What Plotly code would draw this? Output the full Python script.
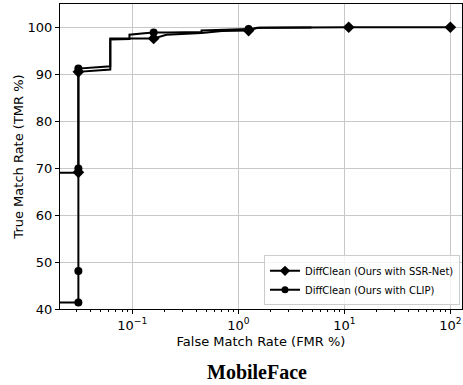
import plotly.graph_objects as go

# ---- data ----
ssr_fmr = [0.001, 0.031, 0.031, 0.031, 0.062, 0.062, 0.094, 0.13, 0.159, 0.21, 0.45, 0.70, 1.25, 1.5, 4.9, 11.0, 100.0]
ssr_tmr = [69.0, 69.0, 69.1, 90.5, 91.0, 97.6, 97.6, 97.5, 97.6, 98.4, 98.8, 99.2, 99.3, 99.9, 100.0, 100.0, 100.0]
ssr_marked = [0, 0, 1, 1, 0, 0, 0, 0, 1, 0, 0, 0, 1, 0, 0, 1, 1]

clip_fmr = [0.001, 0.031, 0.031, 0.031, 0.031, 0.062, 0.062, 0.094, 0.094, 0.13, 0.159, 0.22, 0.45, 0.45, 0.68, 1.25, 1.6, 4.9]
clip_tmr = [41.4, 41.4, 48.1, 69.9, 91.2, 91.7, 97.4, 97.5, 98.4, 98.7, 98.9, 98.9, 99.0, 99.3, 99.4, 99.6, 99.9, 99.95]
clip_marked = [0, 1, 1, 1, 1, 0, 0, 0, 0, 0, 1, 0, 0, 0, 0, 1, 0, 0]

series = [
    ("DiffClean (Ours with SSR-Net)", ssr_fmr, ssr_tmr, ssr_marked, "diamond", 9),
    ("DiffClean (Ours with CLIP)", clip_fmr, clip_tmr, clip_marked, "circle", 8),
]

x_ticks = [0.1, 1, 10, 100]
x_ticktext = ["10<sup>\u22121</sup>", "10<sup>0</sup>", "10<sup>1</sup>", "10<sup>2</sup>"]
y_ticks = [40, 50, 60, 70, 80, 90, 100]

fig = go.Figure()
for name, xs, ys, marked, sym, ms in series:
    fig.add_trace(go.Scatter(x=xs, y=ys, mode="lines", line=dict(color="black", width=2),
                             showlegend=False, hoverinfo="skip"))
    mx = [x for x, m in zip(xs, marked) if m]
    my = [y for y, m in zip(ys, marked) if m]
    fig.add_trace(go.Scatter(x=mx, y=my, mode="markers",
                             marker=dict(symbol=sym, size=ms, color="black"),
                             showlegend=False))
    fig.add_trace(go.Scatter(x=[None], y=[None], mode="lines+markers", name=name,
                             line=dict(color="black", width=2),
                             marker=dict(symbol=sym, size=ms - 1, color="black")))

font = "DejaVu Sans, sans-serif"
fig.update_layout(
    width=463, height=385,
    margin=dict(l=60, r=1, t=4, b=75.5, autoexpand=False),
    paper_bgcolor="white", plot_bgcolor="white",
    font=dict(family=font, size=13, color="black"),
    showlegend=True,
    legend=dict(x=0.995, y=0.012, xanchor="right", yanchor="bottom",
                bgcolor="rgba(255,255,255,0.8)", bordercolor="#cccccc", borderwidth=1,
                font=dict(size=10, family=font), itemwidth=30,
                tracegroupgap=0),
    xaxis=dict(type="log", range=[-1.682, 2.110], automargin=False,
               tickvals=x_ticks, ticktext=x_ticktext,
               ticks="outside", ticklen=4, tickcolor="black",
               showline=True, mirror=True, linecolor="black", linewidth=1,
               showgrid=True, gridcolor="#c8c8c8", gridwidth=1, zeroline=False,
               minor=dict(ticks="outside", ticklen=2, tickcolor="black", showgrid=False,
                          dtick="D1"),
               tickfont=dict(size=13),
               title=dict(text="False Match Rate (FMR %)", font=dict(size=13), standoff=5)),
    yaxis=dict(range=[40, 104.95], tickvals=y_ticks, automargin=False,
               ticks="outside", ticklen=4, tickcolor="black",
               showline=True, mirror=True, linecolor="black", linewidth=1,
               showgrid=True, gridcolor="#c8c8c8", gridwidth=1, zeroline=False,
               tickfont=dict(size=13),
               title=dict(text="True Match Rate (TMR %)", font=dict(size=13), standoff=1)),
    annotations=[dict(text="<b>MobileFace</b>", xref="paper", yref="paper",
                      x=0.49, y=-0.205, xanchor="center", yanchor="middle", showarrow=False,
                      font=dict(family="Liberation Serif, Times New Roman, serif", size=20,
                                color="black"))],
)

fig.write_html("out.html", config={"displayModeBar": False},
               post_script="document.body.style.margin='0';")
